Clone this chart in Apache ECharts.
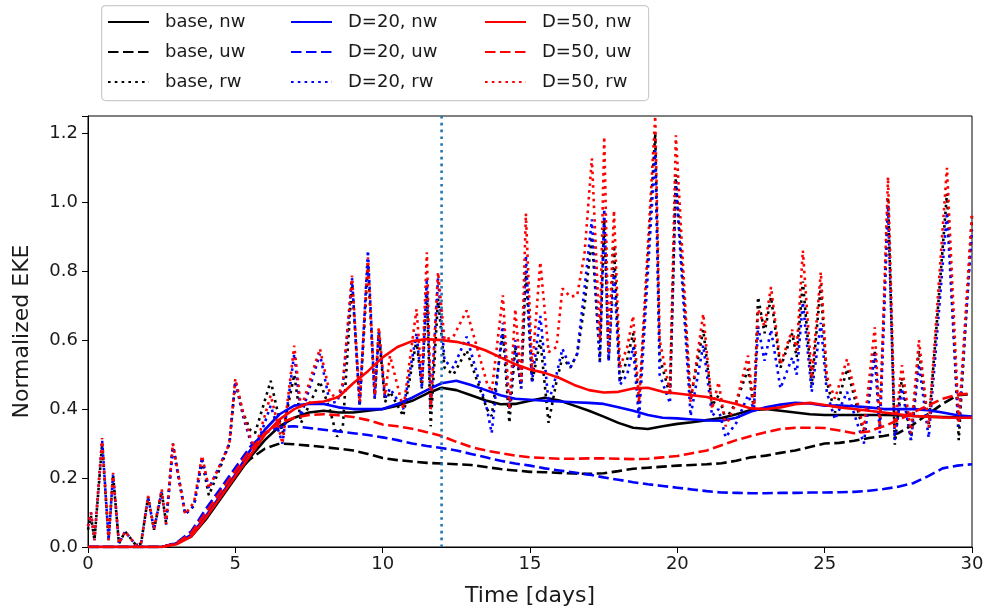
<!DOCTYPE html>
<html><head><meta charset="utf-8">
<script src="https://cdn.jsdelivr.net/npm/echarts@6/dist/echarts.min.js"></script>
<style>html,body{margin:0;padding:0;background:#fff}#c{width:987px;height:613px}</style>
</head><body><div id="c"></div><script>
// smooth series sample times (days)
const tSmooth = [0,0.5,1,1.5,2,2.5,3,3.5,4,4.5,
  5,5.5,6,6.5,7,7.5,8,8.5,9,9.5,
  10,10.5,11,11.5,12,12.5,13,13.5,14,14.5,
  15,15.5,16,16.5,17,17.5,18,18.5,19,19.5,
  20,20.5,21,21.5,22,22.5,23,23.5,24,24.5,
  25,25.5,26,26.5,27,27.5,28,28.5,29,29.5,30];

const baseNW = [0,0,0,0,0,0,0.01,0.03,0.08,0.14,
  0.20,0.26,0.31,0.35,0.375,0.39,0.395,0.39,0.39,0.395,
  0.40,0.41,0.424,0.445,0.462,0.455,0.44,0.425,0.414,0.415,
  0.424,0.433,0.425,0.41,0.395,0.378,0.36,0.346,0.342,0.35,
  0.357,0.362,0.368,0.374,0.385,0.397,0.40,0.395,0.39,0.385,
  0.383,0.383,0.383,0.383,0.383,0.382,0.38,0.378,0.377,0.376,0.375];
const d20NW = [0,0,0,0,0,0,0.01,0.035,0.09,0.15,
  0.21,0.28,0.34,0.385,0.41,0.415,0.415,0.405,0.40,0.40,
  0.40,0.415,0.433,0.455,0.475,0.482,0.47,0.455,0.44,0.43,
  0.427,0.424,0.422,0.42,0.418,0.415,0.405,0.395,0.383,0.375,
  0.373,0.37,0.367,0.366,0.375,0.393,0.405,0.413,0.418,0.416,
  0.41,0.41,0.408,0.405,0.40,0.40,0.40,0.397,0.39,0.382,0.378];
const d50NW = [0,0,0,0,0,0,0.008,0.03,0.085,0.145,
  0.205,0.265,0.325,0.37,0.40,0.418,0.422,0.435,0.475,0.51,
  0.55,0.58,0.597,0.603,0.60,0.595,0.585,0.57,0.55,0.53,
  0.515,0.505,0.49,0.47,0.455,0.448,0.45,0.46,0.462,0.45,
  0.445,0.44,0.435,0.425,0.415,0.402,0.40,0.405,0.414,0.418,
  0.412,0.405,0.40,0.395,0.39,0.385,0.38,0.378,0.376,0.375,0.375];
const baseUW = [0,0,0,0,0,0,0.01,0.035,0.09,0.15,
  0.21,0.255,0.285,0.30,0.298,0.294,0.29,0.285,0.28,0.27,
  0.258,0.252,0.248,0.244,0.242,0.24,0.238,0.232,0.226,0.222,
  0.218,0.217,0.215,0.213,0.212,0.214,0.22,0.227,0.23,0.233,
  0.236,0.238,0.24,0.243,0.25,0.26,0.265,0.273,0.28,0.29,
  0.30,0.302,0.308,0.316,0.322,0.33,0.355,0.385,0.415,0.44,0.443];
const d20UW = [0,0,0,0,0,0,0.012,0.045,0.11,0.17,
  0.23,0.29,0.33,0.348,0.35,0.345,0.34,0.335,0.33,0.325,
  0.318,0.31,0.30,0.293,0.287,0.28,0.27,0.26,0.25,0.242,
  0.236,0.228,0.222,0.216,0.21,0.202,0.195,0.188,0.182,0.177,
  0.172,0.167,0.162,0.158,0.157,0.156,0.156,0.157,0.157,0.158,
  0.158,0.159,0.16,0.163,0.168,0.175,0.185,0.205,0.228,0.236,0.24];
const d50UW = [0,0,0,0,0,0,0.01,0.04,0.10,0.16,
  0.22,0.28,0.33,0.36,0.375,0.383,0.385,0.382,0.377,0.368,
  0.355,0.35,0.343,0.333,0.322,0.305,0.29,0.28,0.272,0.265,
  0.26,0.258,0.256,0.256,0.257,0.257,0.256,0.255,0.256,0.26,
  0.264,0.272,0.28,0.295,0.31,0.322,0.333,0.342,0.346,0.346,
  0.345,0.338,0.33,0.335,0.35,0.368,0.39,0.41,0.43,0.442,0.445];

// rw (spiky) series sample times (days)
const tRW = [0,0.1,0.22,0.48,0.7,0.85,1.05,1.26,1.63,1.8,
  2.04,2.24,2.5,2.65,2.88,3.3,3.6,3.87,4.1,4.44,
  4.8,5.0,5.26,5.5,5.67,6.2,6.6,7.0,7.23,7.87,
  8.2,8.45,8.65,8.96,9.22,9.5,9.73,9.87,10.08,10.25,
  10.7,11.15,11.33,11.5,11.63,11.88,12.1,12.4,12.85,13.54,
  13.7,14.08,14.3,14.5,14.7,14.86,15.07,15.35,15.63,15.9,
  16.1,16.37,16.6,16.85,17.1,17.37,17.52,17.67,17.85,18.05,
  18.3,18.5,18.7,19.25,19.4,19.75,19.95,20.45,20.88,21.18,
  21.4,21.64,22.0,22.4,22.6,22.74,22.96,23.18,23.5,23.9,
  24.05,24.26,24.56,24.87,25.07,25.35,25.76,26.33,26.7,26.87,
  27.15,27.38,27.62,27.93,28.2,28.53,29.15,29.55,30.0];
const baseRW = [0.05,0.09,0.02,0.30,0.02,0.21,0.01,0.045,0.005,0.01,
  0.145,0.05,0.16,0.07,0.30,0.095,0.12,0.25,0.15,0.22,
  0.30,0.48,0.39,0.34,0.33,0.482,0.33,0.50,0.36,0.48,
  0.40,0.32,0.35,0.77,0.41,0.82,0.43,0.62,0.42,0.45,
  0.38,0.60,0.46,0.74,0.35,0.72,0.52,0.50,0.57,0.40,
  0.38,0.62,0.36,0.58,0.46,0.80,0.477,0.60,0.36,0.48,
  0.55,0.52,0.56,0.70,0.90,0.54,0.95,0.54,0.875,0.48,
  0.545,0.62,0.40,1.20,0.55,0.44,1.08,0.43,0.63,0.41,
  0.44,0.37,0.42,0.516,0.40,0.725,0.62,0.725,0.52,0.62,
  0.55,0.77,0.47,0.76,0.48,0.39,0.516,0.33,0.57,0.35,
  1.015,0.297,0.49,0.31,0.57,0.35,1.025,0.31,0.96];
const d20RW = [0.06,0.10,0.02,0.31,0.02,0.21,0.01,0.045,0.005,0.01,
  0.145,0.05,0.16,0.065,0.29,0.095,0.12,0.26,0.17,0.23,
  0.30,0.48,0.38,0.31,0.28,0.41,0.30,0.56,0.38,0.56,
  0.42,0.42,0.47,0.78,0.41,0.86,0.43,0.63,0.43,0.46,
  0.40,0.62,0.46,0.78,0.40,0.78,0.54,0.52,0.61,0.40,
  0.33,0.65,0.40,0.60,0.46,0.845,0.48,0.67,0.42,0.50,
  0.575,0.52,0.56,0.75,0.95,0.536,0.98,0.54,0.80,0.47,
  0.50,0.58,0.37,1.15,0.50,0.417,1.06,0.38,0.585,0.38,
  0.40,0.318,0.36,0.44,0.40,0.64,0.54,0.63,0.46,0.55,
  0.50,0.71,0.45,0.65,0.45,0.37,0.45,0.30,0.56,0.33,
  0.99,0.31,0.46,0.31,0.53,0.317,0.97,0.35,0.92];
const d50RW = [0.06,0.10,0.02,0.316,0.02,0.215,0.01,0.045,0.005,0.01,
  0.148,0.052,0.168,0.067,0.30,0.095,0.13,0.265,0.17,0.23,
  0.30,0.488,0.39,0.32,0.284,0.44,0.30,0.584,0.40,0.575,
  0.448,0.43,0.476,0.787,0.42,0.84,0.44,0.637,0.44,0.555,
  0.40,0.69,0.478,0.855,0.40,0.797,0.60,0.61,0.686,0.475,
  0.45,0.73,0.40,0.69,0.48,0.967,0.515,0.826,0.565,0.58,
  0.75,0.726,0.73,0.85,1.127,0.60,1.19,0.56,0.976,0.52,
  0.58,0.67,0.42,1.25,0.60,0.45,1.194,0.42,0.676,0.40,
  0.478,0.35,0.42,0.555,0.40,0.69,0.64,0.754,0.53,0.63,
  0.57,0.86,0.49,0.797,0.495,0.43,0.545,0.34,0.637,0.35,
  1.073,0.34,0.527,0.33,0.60,0.346,1.10,0.36,0.97];

// reference time marker and axis ticks
const markerT = [12, 12];
const markerV = [0, 1.25];
const xTicks = {min: 0, max: 30, step: 5};
const yTicks = {min: 0, max: 1.25, step: 0.2};

const FONT = 'DejaVu Sans';
const TXT = '#1a1a1a';
const DASH = [10.5, 4.5];
const DOT = [2.6, 4.2];

function mk(name, t, v, color, type) {
  return {
    name: name, type: 'line', data: t.map((x, i) => [x, v[i]]),
    symbol: 'none', showSymbol: false, clip: true,
    lineStyle: {color: color, width: 2.6, type: type},
    itemStyle: {color: color}, emphasis: {disabled: true}
  };
}

const series = [
  mk('base, nw', tSmooth, baseNW, '#000000', 'solid'),
  mk('base, uw', tSmooth, baseUW, '#000000', DASH),
  mk('base, rw', tRW, baseRW, '#000000', DOT),
  mk('D=20, nw', tSmooth, d20NW, '#0000ff', 'solid'),
  mk('D=20, uw', tSmooth, d20UW, '#0000ff', DASH),
  mk('D=20, rw', tRW, d20RW, '#0000ff', DOT),
  mk('D=50, nw', tSmooth, d50NW, '#ff0000', 'solid'),
  mk('D=50, uw', tSmooth, d50UW, '#ff0000', DASH),
  mk('D=50, rw', tRW, d50RW, '#ff0000', DOT),
  mk('marker', markerT, markerV, '#1f77b4', DOT)
];

function leg(names, left) {
  return {
    data: names, left: left, top: 13, orient: 'vertical',
    itemWidth: 41, itemHeight: 18, itemGap: 12, selectedMode: false,
    padding: 0,
    itemStyle: {opacity: 0, borderWidth: 0},
    textStyle: {fontFamily: FONT, fontSize: 18, color: TXT, padding: [0, 0, 0, 11]}
  };
}

const chart = echarts.init(document.getElementById('c'), null, {renderer: 'canvas'});
chart.setOption({
  animation: false,
  backgroundColor: '#ffffff',
  grid: {left: 88, right: 15, top: 116, bottom: 66, containLabel: false, outerBoundsMode: 'none',
    show: true, borderColor: '#000', borderWidth: 1, backgroundColor: 'transparent'},
  graphic: [{type: 'rect', left: 101, top: 5, z: -10, silent: true,
    shape: {width: 547, height: 95, r: 4},
    style: {fill: 'rgba(255,255,255,0.8)', stroke: '#cccccc', lineWidth: 1.2}}],
  legend: [
    leg(['base, nw', 'base, uw', 'base, rw'], 107),
    leg(['D=20, nw', 'D=20, uw', 'D=20, rw'], 290),
    leg(['D=50, nw', 'D=50, uw', 'D=50, rw'], 484)
  ],
  xAxis: {
    type: 'value', min: xTicks.min, max: xTicks.max, interval: xTicks.step,
    axisLine: {show: true, onZero: false, lineStyle: {color: '#000', width: 1}},
    axisTick: {show: true, length: 6, lineStyle: {color: '#000', width: 1}},
    axisLabel: {fontFamily: FONT, fontSize: 18, color: TXT, margin: 8},
    splitLine: {show: false},
    name: 'Time [days]', nameLocation: 'middle', nameGap: 38,
    nameTextStyle: {fontFamily: FONT, fontSize: 22, color: TXT}
  },
  yAxis: {
    type: 'value', min: yTicks.min, max: yTicks.max, interval: yTicks.step,
    axisLine: {show: true, onZero: false, lineStyle: {color: '#000', width: 1}},
    axisTick: {show: true, length: 6, lineStyle: {color: '#000', width: 1}},
    axisLabel: {fontFamily: FONT, fontSize: 18, color: TXT, margin: 10,
      formatter: function (v) { return Math.abs(v * 5 - Math.round(v * 5)) < 1e-6 ? v.toFixed(1) : ''; }},
    splitLine: {show: false},
    name: 'Normalized EKE', nameLocation: 'middle', nameGap: 55, nameRotate: 90,
    nameTextStyle: {fontFamily: FONT, fontSize: 22, color: TXT}
  },
  series: series
});
</script></body></html>
